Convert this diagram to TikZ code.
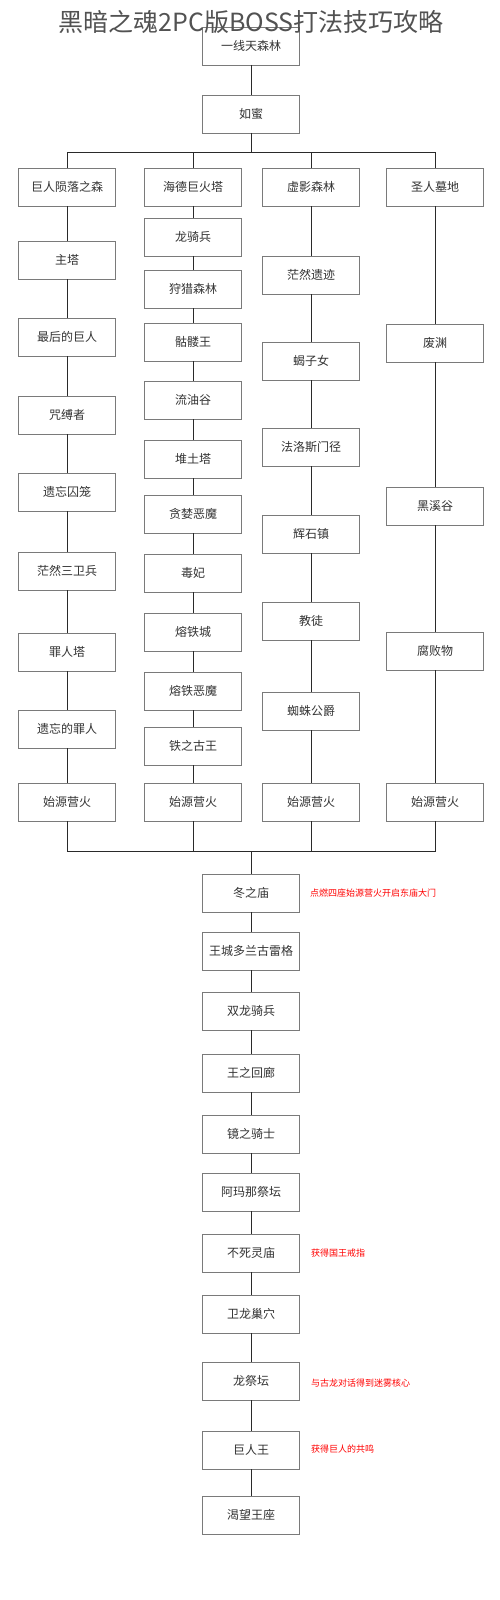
\documentclass[tikz,border=0pt]{standalone}
\usepackage{fontspec}
\setmainfont{Noto Sans CJK SC}
\newfontfamily\cjk{Noto Sans CJK SC}
\definecolor{boxline}{HTML}{7A7A7A}
\definecolor{wire}{HTML}{2A2A2A}
\definecolor{txt}{HTML}{333333}
\begin{document}
\begin{tikzpicture}[x=1pt,y=-1pt,
    stage/.style={draw=boxline,line width=0.9pt,fill=white,minimum width=97pt,
      minimum height=38pt,inner sep=0pt,outer sep=0pt,text=txt,
      font=\cjk\fontsize{12}{14}\selectfont},
    link/.style={draw=wire,line width=0.9pt},
    note/.style={anchor=west,inner sep=0pt,text=red,font=\cjk\fontsize{9}{11}\selectfont}]
  \useasboundingbox (0,0) rectangle (500,1600);
  % \draw[help lines,step=50] (0,0) grid (500,1600);
  \node (s0) at (251,46) [stage] {一线天森林};
  \node (s1) at (251,114) [stage] {如蜜};
  \coordinate (topbar) at (0,152);
  \coordinate (lowbar) at (0,851);

  % column one
  \node (a0) at (67,187) [stage] {巨人陨落之森};
  \node (a1) at (67,260) [stage] {主塔};
  \node (a2) at (67,337) [stage] {最后的巨人};
  \node (a3) at (67,415) [stage] {咒缚者};
  \node (a4) at (67,492) [stage] {遗忘囚笼};
  \node (a5) at (67,571) [stage] {茫然三卫兵};
  \node (a6) at (67,652) [stage] {罪人塔};
  \node (a7) at (67,729) [stage] {遗忘的罪人};
  \node (a8) at (67,802) [stage] {始源营火};

  % column two
  \node (b0) at (193,187) [stage] {海德巨火塔};
  \node (b1) at (193,237) [stage] {龙骑兵};
  \node (b2) at (193,289) [stage] {狩猎森林};
  \node (b3) at (193,342) [stage] {骷髅王};
  \node (b4) at (193,400) [stage] {流油谷};
  \node (b5) at (193,459) [stage] {堆土塔};
  \node (b6) at (193,514) [stage] {贪婪恶魔};
  \node (b7) at (193,573) [stage] {毒妃};
  \node (b8) at (193,632) [stage] {熔铁城};
  \node (b9) at (193,691) [stage] {熔铁恶魔};
  \node (b10) at (193,746) [stage] {铁之古王};
  \node (b11) at (193,802) [stage] {始源营火};

  % column three
  \node (c0) at (311,187) [stage] {虚影森林};
  \node (c1) at (311,275) [stage] {茫然遗迹};
  \node (c2) at (311,361) [stage] {蝎子女};
  \node (c3) at (311,447) [stage] {法洛斯门径};
  \node (c4) at (311,534) [stage] {辉石镇};
  \node (c5) at (311,621) [stage] {教徒};
  \node (c6) at (311,711) [stage] {蜘蛛公爵};
  \node (c7) at (311,802) [stage] {始源营火};

  % column four
  \node (d0) at (435,187) [stage] {圣人墓地};
  \node (d1) at (435,343) [stage] {废渊};
  \node (d2) at (435,506) [stage] {黑溪谷};
  \node (d3) at (435,651) [stage] {腐败物};
  \node (d4) at (435,802) [stage] {始源营火};

  % main line after the bonfires
  \node (m0) at (251,893) [stage] {冬之庙};
  \node (m1) at (251,951) [stage] {王城多兰古雷格};
  \node (m2) at (251,1011) [stage] {双龙骑兵};
  \node (m3) at (251,1073) [stage] {王之回廊};
  \node (m4) at (251,1134) [stage] {镜之骑士};
  \node (m5) at (251,1192) [stage] {阿玛那祭坛};
  \node (m6) at (251,1253) [stage] {不死灵庙};
  \node (m7) at (251,1314) [stage] {卫龙巢穴};
  \node (m8) at (251,1381) [stage] {龙祭坛};
  \node (m9) at (251,1450) [stage] {巨人王};
  \node (m10) at (251,1515) [stage] {渴望王座};

  \node (n0) at (310,893) [note] {点燃四座始源营火开启东庙大门};
  \node (n1) at (311,1253) [note] {获得国王戒指};
  \node (n2) at (311,1383) [note] {与古龙对话得到迷雾核心};
  \node (n3) at (311,1449) [note] {获得巨人的共鸣};

  \node (title) at (251,22) [text=txt!85,inner sep=0pt,
    font=\cjk\fontsize{25}{27}\selectfont] {黑暗之魂2PC版BOSS打法技巧攻略};

  \draw[link] (s0) -- (s1);
  \draw[link] (s1.south) -- (s1.south |- topbar);
  \draw[link] (a0.north |- topbar) -- (d0.north |- topbar);
  \draw[link] (a0.north |- topbar) -- (a0.north);
  \draw[link] (b0.north |- topbar) -- (b0.north);
  \draw[link] (c0.north |- topbar) -- (c0.north);
  \draw[link] (d0.north |- topbar) -- (d0.north);

  \draw[link] (a0) -- (a1) -- (a2) -- (a3) -- (a4) -- (a5) -- (a6) -- (a7) -- (a8);
  \draw[link] (b0) -- (b1) -- (b2) -- (b3) -- (b4) -- (b5) -- (b6) -- (b7) -- (b8)
    -- (b9) -- (b10) -- (b11);
  \draw[link] (c0) -- (c1) -- (c2) -- (c3) -- (c4) -- (c5) -- (c6) -- (c7);
  \draw[link] (d0) -- (d1) -- (d2) -- (d3) -- (d4);

  \draw[link] (a8.south) -- (a8.south |- lowbar) -- (d4.south |- lowbar) -- (d4.south);
  \draw[link] (b11.south) -- (b11.south |- lowbar);
  \draw[link] (c7.south) -- (c7.south |- lowbar);
  \draw[link] (m0.north |- lowbar) -- (m0.north);

  \draw[link] (m0) -- (m1) -- (m2) -- (m3) -- (m4) -- (m5) -- (m6) -- (m7) -- (m8)
    -- (m9) -- (m10);
\end{tikzpicture}
\end{document}
